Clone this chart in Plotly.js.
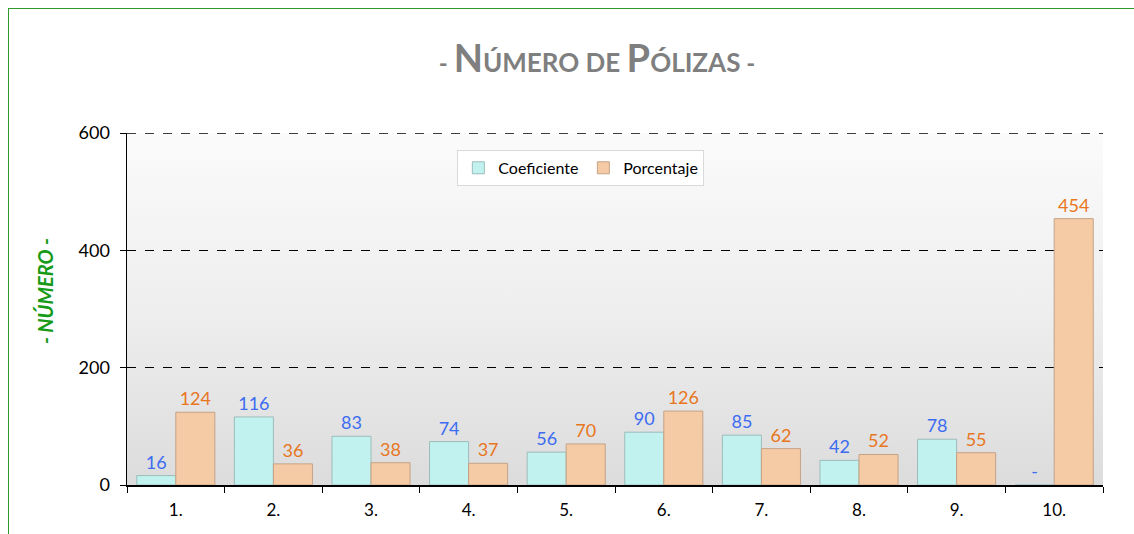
<!DOCTYPE html>
<html>
<head>
<meta charset="utf-8">
<script src="https://cdn.plot.ly/plotly-3.0.1.min.js"></script>
<style>
  html, body { margin: 0; padding: 0; background: #ffffff; overflow: hidden; }
  #frame { position: absolute; left: 8px; top: 8px; width: 1140px; height: 540px;
           border-left: 1.5px solid #2e9a2e; border-top: 1.5px solid #2e9a2e; }
  #chart { position: absolute; left: 0; top: 0; width: 1134px; height: 534px; }
</style>
</head>
<body>
<div id="frame"></div>
<div id="chart"></div>
<script>
const categories = ["1.", "2.", "3.", "4.", "5.", "6.", "7.", "8.", "9.", "10."];
const coeficiente = [16, 116, 83, 74, 56, 90, 85, 42, 78, 0];
const coeficienteLabels = ["16", "116", "83", "74", "56", "90", "85", "42", "78", "-"];
const porcentaje = [124, 36, 38, 37, 70, 126, 62, 52, 55, 454];
const porcentajeLabels = porcentaje.map(String);
const yTicks = [0, 200, 400, 600];

const FONT = "Lato, 'Open Sans', sans-serif";

const bgSvg = '<svg xmlns="http://www.w3.org/2000/svg" width="100" height="100" preserveAspectRatio="none">' +
  '<defs><linearGradient id="g" x1="0" y1="0" x2="0" y2="1">' +
  '<stop offset="0" stop-color="#fbfbfb"/><stop offset="0.5" stop-color="#eeeeee"/><stop offset="1" stop-color="#dcdcdc"/>' +
  '</linearGradient></defs><rect width="100" height="100" fill="url(#g)"/></svg>';
const bgUri = 'data:image/svg+xml;base64,' + btoa(bgSvg);

const traces = [
  {
    type: 'bar', name: 'Coeficiente', x: categories, y: coeficiente,
    text: coeficienteLabels, textposition: 'outside', cliponaxis: false,
    textfont: { family: FONT, size: 18, color: '#3d6cf0' },
    marker: { color: '#c2f2ef', line: { color: '#9cbcba', width: 1 } }
  },
  {
    type: 'bar', name: 'Porcentaje', x: categories, y: porcentaje,
    text: porcentajeLabels, textposition: 'outside', cliponaxis: false,
    textfont: { family: FONT, size: 18, color: '#e8761e' },
    marker: { color: '#f5cba6', line: { color: '#c4a286', width: 1 } }
  }
];

const yMax = yTicks[yTicks.length - 1];

const layout = {
  width: 1134, height: 534,
  margin: { l: 127, r: 31, t: 133, b: 49 },
  paper_bgcolor: 'rgba(0,0,0,0)',
  plot_bgcolor: 'rgba(0,0,0,0)',
  font: { family: FONT, size: 17, color: '#000000' },
  barmode: 'group', bargap: 0.2, bargroupgap: 0,
  title: {
    text: '<span style="font-size:24px">- </span>N<span style="font-size:26px">ÚMERO DE </span>P<span style="font-size:26px">ÓLIZAS</span><span style="font-size:24px"> -</span>',
    font: { family: FONT, size: 38, color: '#7f7f7f', weight: 'bold' },
    xref: 'paper', x: 0.4816, xanchor: 'center',
    yref: 'container', y: 0.89, yanchor: 'middle'
  },
  showlegend: true,
  legend: {
    orientation: 'h', x: 0.465, y: 0.952, xanchor: 'center', yanchor: 'top',
    bgcolor: '#ffffff', bordercolor: '#d9d9d9', borderwidth: 1,
    font: { family: FONT, size: 16, color: '#000000' },
    itemwidth: 30, tracegroupgap: 0
  },
  xaxis: {
    type: 'category', showline: true, linecolor: '#000000', linewidth: 1.5,
    ticks: 'outside', tickson: 'boundaries', ticklen: 6, tickcolor: '#000000',
    ticklabelstandoff: 9,
    showgrid: false, tickfont: { family: FONT, size: 17, color: '#000000' },
    mirror: false
  },
  yaxis: {
    range: [0, yMax], tickvals: yTicks, showline: true, linecolor: '#000000', linewidth: 1.5,
    ticks: 'outside', ticklen: 6, tickcolor: '#000000', ticklabelstandoff: 6,
    showgrid: true, gridcolor: '#000000', gridwidth: 1.5, griddash: 'dash',
    zeroline: false, tickfont: { family: FONT, size: 18, color: '#000000' }
  },
  shapes: [{
    type: 'line', xref: 'paper', yref: 'y', x0: 0, x1: 1, y0: yMax, y1: yMax,
    line: { color: '#000000', width: 1.5, dash: 'dash' }, layer: 'below'
  }],
  images: [{
    source: bgUri, xref: 'paper', yref: 'paper', x: 0, y: 1, sizex: 1, sizey: 1,
    sizing: 'stretch', layer: 'below', xanchor: 'left', yanchor: 'top'
  }],
  annotations: [{
    text: '<b><i>- NÚMERO -</i></b>', xref: 'paper', yref: 'paper',
    x: -0.084, y: 0.551, xanchor: 'center', yanchor: 'middle', textangle: -90, showarrow: false,
    font: { family: FONT, size: 20, color: '#179a17' }
  }]
};

Plotly.newPlot('chart', traces, layout, { displayModeBar: false, staticPlot: true });
</script>
</body>
</html>
